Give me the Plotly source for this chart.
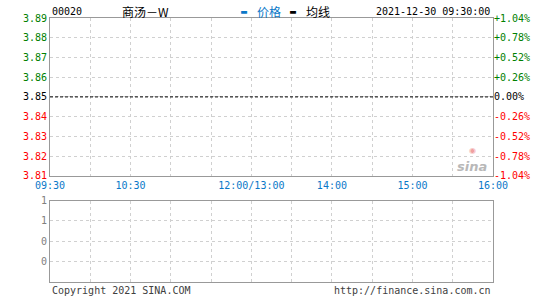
import plotly.graph_objects as go

# ---- data ----
code = "00020"
name = "商汤－W"
timestamp = "2021-12-30 09:30:00"
prev_close = 3.85
price_ticks = [3.81, 3.82, 3.83, 3.84, 3.85, 3.86, 3.87, 3.88, 3.89]
time_tick_minutes = [0, 60, 150, 210, 270, 330]
time_tick_labels = ["09:30", "10:30", "12:00/13:00", "14:00", "15:00", "16:00"]
price_minutes = []   # no trades yet
price_values = []
avg_values = []
vol_tickvals = [0.25, 0.5, 0.75, 1.0]
vol_ticktext = ["0", "0", "1", "1"]
vol_minutes = []
vol_values = []

GREEN = "#008000"
RED = "#ff0000"
BLUE = "#0a78c8"
GRAY = "#999999"
GRID = "#d0d0d0"
MONO = "DejaVu Sans Mono"
CJK = "Noto Sans CJK SC"

def color_for(p):
    if abs(p - prev_close) < 1e-9:
        return "#000000"
    return GREEN if p > prev_close else RED

left_text = [f'<span style="color:{color_for(p)}">{p:.2f}</span>' for p in price_ticks]
pcts = [(p - prev_close) / prev_close * 100 for p in price_ticks]
right_text = []
for p, c in zip(price_ticks, pcts):
    s = f"{c:+.2f}%" if abs(c) > 1e-9 else "0.00%"
    right_text.append(f'<span style="color:{color_for(p)}">{s}</span>')

fig = go.Figure()
fig.add_trace(go.Scatter(x=price_minutes, y=price_values, mode="lines",
                         line=dict(color=BLUE, width=1), xaxis="x", yaxis="y", showlegend=False))
fig.add_trace(go.Scatter(x=price_minutes, y=avg_values, mode="lines",
                         line=dict(color="black", width=1), xaxis="x", yaxis="y", showlegend=False))
# previous close reference line
fig.add_trace(go.Scatter(x=[time_tick_minutes[0], time_tick_minutes[-1]], y=[prev_close, prev_close],
                         mode="lines", line=dict(color="black", width=1, dash="3px,2px"),
                         xaxis="x", yaxis="y", showlegend=False, hoverinfo="skip"))
# invisible trace for right percent axis
fig.add_trace(go.Scatter(x=[None], y=[None], xaxis="x", yaxis="y3", showlegend=False))
fig.add_trace(go.Bar(x=vol_minutes, y=vol_values, xaxis="x2", yaxis="y2", showlegend=False,
                     marker_color=BLUE))

main_bottom = (284 - 177) / 266
vol_top = (284 - 202) / 266

xcommon = dict(range=[0, 330], showline=True, mirror=True, linecolor=GRAY, linewidth=1,
               showgrid=True, gridcolor=GRID, griddash="dot", gridwidth=1,
               zeroline=False, fixedrange=True)

fig.update_layout(
    width=545, height=300,
    margin=dict(l=50, r=52, t=18, b=16),
    paper_bgcolor="white", plot_bgcolor="white",
    font=dict(family=MONO, size=10),
    xaxis=dict(**xcommon, domain=[0, 1], anchor="y",
               tickmode="array", tickvals=time_tick_minutes, ticktext=time_tick_labels,
               tickfont=dict(color=BLUE, size=10, family=MONO), ticks="",
               minor=dict(tickmode="linear", tick0=0, dtick=30, showgrid=True,
                          gridcolor=GRID, griddash="dot", gridwidth=1)),
    xaxis2=dict(**xcommon, domain=[0, 1], anchor="y2", showticklabels=False,
                tickmode="linear", tick0=0, dtick=30, ticks=""),
    yaxis=dict(domain=[main_bottom, 1], range=[price_ticks[0], price_ticks[-1]],
               tickmode="array", tickvals=price_ticks, ticktext=left_text,
               showline=True, mirror=True, linecolor=GRAY, showgrid=True, gridcolor=GRID,
               griddash="dot", zeroline=False, ticks="", tickfont=dict(size=10, family=MONO),
               fixedrange=True, anchor="x"),
    yaxis3=dict(overlaying="y", side="right", anchor="x",
                range=[pcts[0], pcts[-1]], tickmode="array", tickvals=pcts, ticktext=right_text,
                showgrid=False, zeroline=False, ticks="", showline=False,
                tickfont=dict(size=10, family=MONO), fixedrange=True),
    yaxis2=dict(domain=[0, vol_top], range=[0, 1], anchor="x2",
                tickmode="array", tickvals=vol_tickvals, ticktext=vol_ticktext,
                tickfont=dict(color="#808080", size=10, family=MONO),
                showline=True, mirror=True, linecolor=GRAY, showgrid=True, gridcolor=GRID,
                griddash="dot", zeroline=False, ticks="", fixedrange=True),
)

ann = []
def txt(x, y, t, color="black", xanchor="left", size=10, family=MONO, **kw):
    ann.append(dict(xref="paper", yref="paper", x=x, y=y, text=t, showarrow=False,
                    xanchor=xanchor, yanchor="middle",
                    font=dict(color=color, size=size, family=family), **kw))

W = 443.0
H = 266.0
def px(xp): return (xp - 50) / W
def py(yp): return (284 - yp) / H

txt(px(50), py(11), code)
txt(px(120), py(11), name, size=12, family=CJK)
txt(px(239), py(11), "<b>▬</b>", color=BLUE, size=10)
txt(px(255), py(11), "价格", color=BLUE, size=12, family=CJK)
txt(px(288), py(11), "<b>▬</b>", color="black", size=10)
txt(px(304), py(11), "均线", color="black", size=12, family=CJK)
txt(px(492), py(11), timestamp, xanchor="right")
txt(px(50), py(293), "Copyright 2021 SINA.COM", color="#404040")
txt(px(493), py(293), "http://finance.sina.com.cn", color="#404040", xanchor="right")
# watermark
txt(px(472), py(168), "<b><i>sina</i></b>", color="#b8b8b8", xanchor="center", size=13,
    family="DejaVu Sans")
txt(px(472), py(151), "◉", color="#f0a0a0", xanchor="center", size=8, family="DejaVu Sans")
fig.update_layout(annotations=ann)

fig.write_html("out.html")
